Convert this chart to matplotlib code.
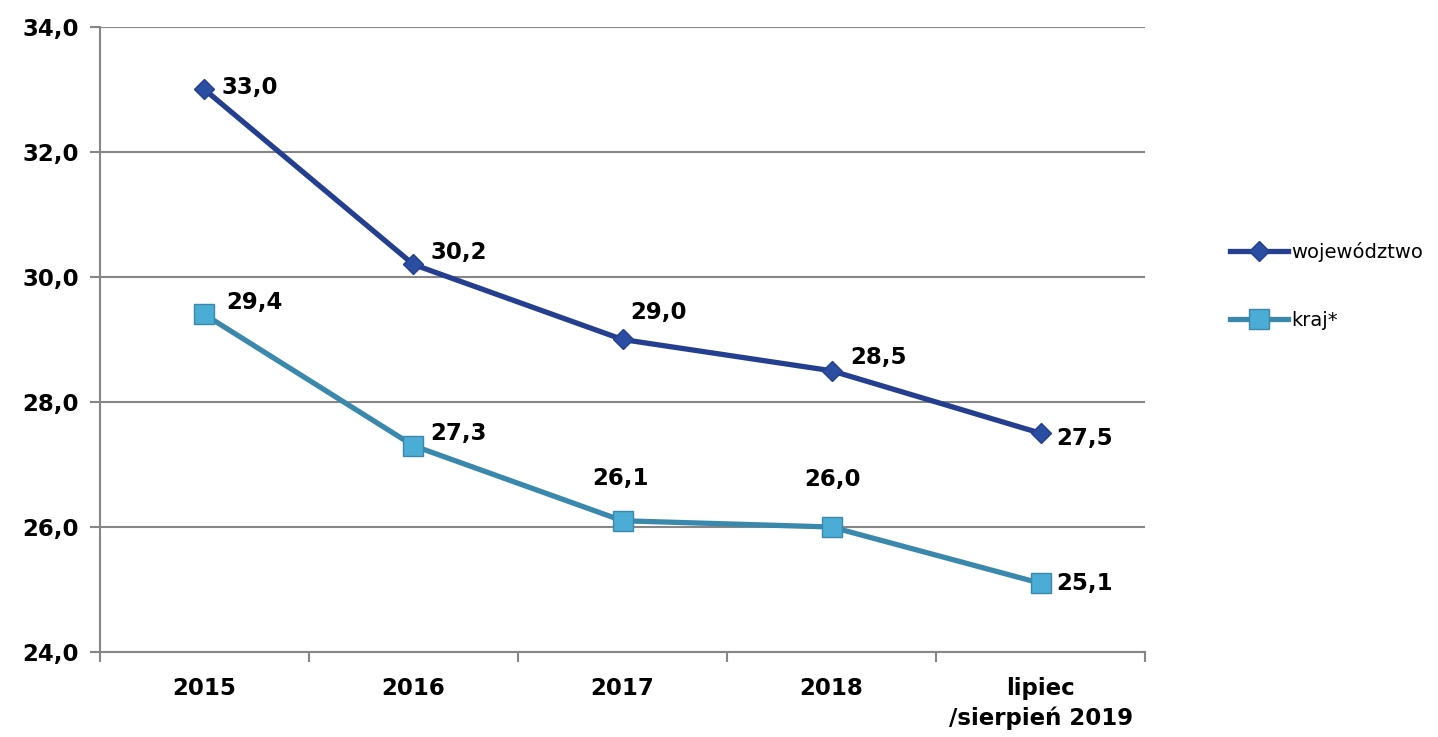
import matplotlib.pyplot as plt
import numpy as np

plt.rcParams['font.family'] = ['DejaVu Sans']

kategorie = ['2015', '2016', '2017', '2018', 'lipiec\n/sierpień 2019']
wojewodztwo = [33.0, 30.2, 29.0, 28.5, 27.5]
kraj = [29.4, 27.3, 26.1, 26.0, 25.1]

# przesunięcia etykiet (piksele)
off_woj = [(17, 2), (17, 12), (8, 27), (19, 13), (16, -5)]
off_kraj = [(22, 12), (17, 12), (-2, 42), (1, 48), (16, 0)]

fig = plt.figure(figsize=(14.38, 7.37), dpi=100)
ax = fig.add_axes([0.0695, 0.1153, 0.7268, 0.8481])

x = np.arange(len(kategorie))
c1_line, c1_face = '#243F8F', '#2B4EA2'
c2_line, c2_face = '#3A89AD', '#4BACD6'

ax.plot(x, wojewodztwo, color=c1_line, lw=3.8, marker='D', ms=10,
        mfc=c1_face, mec=c1_line, label='województwo', zorder=3)
ax.plot(x, kraj, color=c2_line, lw=3.8, marker='s', ms=14,
        mfc=c2_face, mec=c2_line, label='kraj*', zorder=3)

for xi, v, o in zip(x, wojewodztwo, off_woj):
    ax.annotate(f'{v:.1f}'.replace('.', ','), (xi, v), xytext=o,
                textcoords='offset pixels', fontsize=16.5, fontweight='bold',
                ha='left' if o[0] > 5 else 'center', va='center')
for xi, v, o in zip(x, kraj, off_kraj):
    ax.annotate(f'{v:.1f}'.replace('.', ','), (xi, v), xytext=o,
                textcoords='offset pixels', fontsize=16.5, fontweight='bold',
                ha='left' if o[0] > 5 else 'center', va='center')

ax.set_xlim(-0.5, 4.5)
ax.set_ylim(24, 34)
ax.set_yticks(np.arange(24, 34.1, 2))
ax.set_yticklabels([f'{t:.1f}'.replace('.', ',') for t in np.arange(24, 34.1, 2)],
                   fontsize=16.5, fontweight='bold')
ax.set_xticks(x)
ax.set_xticklabels(kategorie, fontsize=16.5, fontweight='bold', linespacing=1.35)
ax.set_xticks(np.arange(-0.5, 4.6, 1), minor=True)
ax.tick_params(axis='x', which='major', length=0, pad=18)
ax.tick_params(axis='x', which='minor', length=7, color='#868686', width=1.5)
ax.tick_params(axis='y', length=7, color='#868686', width=1.5, pad=8)

ax.grid(axis='y', color='#868686', lw=1.5)
ax.set_axisbelow(True)
for s in ['top', 'right']:
    ax.spines[s].set_visible(False)
for s in ['left', 'bottom']:
    ax.spines[s].set_color('#868686')
    ax.spines[s].set_linewidth(1.5)

fig.legend(loc='center left', bbox_to_anchor=(0.843, 0.612), frameon=False,
           fontsize=14, handlelength=3.0, handletextpad=0.15, labelspacing=2.55)

fig.savefig('out.png', dpi=100)
